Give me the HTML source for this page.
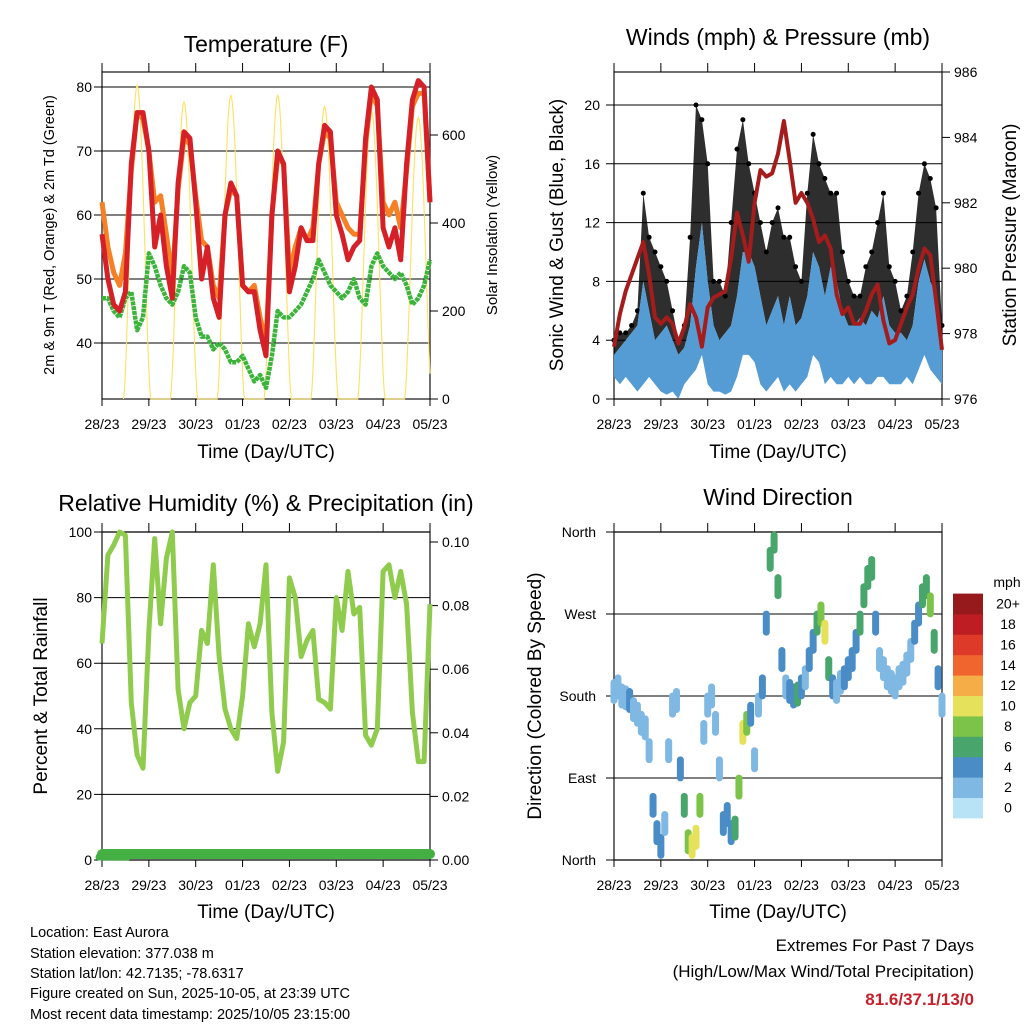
<!DOCTYPE html>
<html><head><meta charset="utf-8"><style>
html,body{margin:0;padding:0;background:#fff;width:1024px;height:1024px;overflow:hidden}
svg{display:block;font-family:"Liberation Sans",sans-serif}
</style></head><body>
<svg id="chart" width="1024" height="1024" viewBox="0 0 1024 1024" xmlns="http://www.w3.org/2000/svg">
<rect width="1024" height="1024" fill="#fff"/>
<text x="266" y="52" font-size="23" text-anchor="middle">Temperature (F)</text>
<text x="778" y="45" font-size="23" text-anchor="middle">Winds (mph) &amp; Pressure (mb)</text>
<text x="266" y="511" font-size="23" text-anchor="middle">Relative Humidity (%) &amp; Precipitation (in)</text>
<text x="778" y="505" font-size="23" text-anchor="middle">Wind Direction</text>
<text transform="translate(54,235) rotate(-90)" font-size="14.5" text-anchor="middle">2m &amp; 9m T (Red, Orange) &amp; 2m Td (Green)</text>
<text transform="translate(497,235) rotate(-90)" font-size="15" text-anchor="middle">Solar Insolation (Yellow)</text>
<text transform="translate(563,235) rotate(-90)" font-size="19" text-anchor="middle">Sonic Wind &amp; Gust (Blue, Black)</text>
<text transform="translate(1016,235) rotate(-90)" font-size="19" text-anchor="middle">Station Pressure (Maroon)</text>
<text transform="translate(47,696) rotate(-90)" font-size="19" text-anchor="middle">Percent &amp; Total Rainfall</text>
<text transform="translate(541,696) rotate(-90)" font-size="19" text-anchor="middle">Direction (Colored By Speed)</text>
<text x="266" y="458" font-size="19" text-anchor="middle">Time (Day/UTC)</text>
<text x="778" y="458" font-size="19" text-anchor="middle">Time (Day/UTC)</text>
<text x="266" y="918" font-size="19" text-anchor="middle">Time (Day/UTC)</text>
<text x="778" y="918" font-size="19" text-anchor="middle">Time (Day/UTC)</text>
<g font-size="14.5">
<text x="30" y="937">Location: East Aurora</text>
<text x="30" y="958">Station elevation: 377.038 m</text>
<text x="30" y="978">Station lat/lon: 42.7135; -78.6317</text>
<text x="30" y="998">Figure created on Sun, 2025-10-05, at 23:39 UTC</text>
<text x="30" y="1019">Most recent data timestamp: 2025/10/05 23:15:00</text>
</g>
<g text-anchor="end">
<text x="974" y="951" font-size="17">Extremes For Past 7 Days</text>
<text x="974" y="977" font-size="17">(High/Low/Max Wind/Total Precipitation)</text>
<text x="974" y="1005" font-size="17" font-weight="bold" fill="#c8202a">81.6/37.1/13/0</text>
</g>
<g id="layer"></g>
</svg>
<script>
// ---------- data ----------
const dayLabels = ["28/23","29/23","30/23","01/23","02/23","03/23","04/23","05/23"];
const tempTicks = [40,50,60,70,80];
const solarTicks = [0,200,400,600];
const windTicks = [0,4,8,12,16,20];
const pressTicks = [976,978,980,982,984,986];
const rhTicks = [0,20,40,60,80,100];
const rainTicks = ["0.00","0.02","0.04","0.06","0.08","0.10"];
const dirTicks = ["North","East","South","West","North"];
const speedBins = ["0","2","4","6","8","10","12","14","16","18","20+"];
const speedColors = ["#b8e3f6","#7fb8e2","#4a8dc6","#48a56c","#7cc34a","#e6e15a","#f5ad48","#f0652d","#de3a2a","#bf1d24","#961a1c"];
// 3-hourly series (57 samples over 168 h)
const tempRed = [57,50,46,45,48,68,76,76,70,55,60,52,47,65,73,72,62,50,55,47,44,60,65,63,49,48,48,42,38,60,70,68,48,52,58,56,56,68,74,73,60,57,53,55,56,72,80,78,58,55,58,53,68,78,81,80,62];
const tempOrange = [62,55,51,49,54,67,76,75,70,62,63,57,50,64,72,71,63,56,55,49,47,60,64,63,49,48,49,44,40,60,69,68,51,55,58,56,58,68,73,72,62,60,58,57,57,71,79,77,62,60,62,58,67,77,79,79,62];
const dewGreen = [47,47,45,44,47,48,42,44,54,52,49,47,46,48,52,51,44,41,41,39,40,39,37,37,38,36,34,35,33,38,45,44,44,45,46,48,50,53,51,49,48,47,48,50,47,46,52,54,52,51,50,51,49,46,47,49,53];
const solarPeaks = [713,675,690,690,665,656,640];
const windSpd = [3,3.5,4,4.5,5,8,6,4,4.5,5,4,3,3.5,5,9,12,8,5,4,4.5,5,7,10,10,9,7,5,6,7,5,7,5,5.5,7,10,9,7,9,8,6,5,5,5.5,5,6,5.5,7,5,4.5,4.5,4,5,8,9.5,8,7,4];
const windLow = [1.5,1,1.5,1,0.5,1,1.5,1,0.5,0.3,0.5,0,1,1.5,2,3,1,0.5,0.5,0.3,0.5,1.5,3,3,2.5,1,0.5,1,1.5,0.5,1,0.5,1,1.5,3,2.5,1,1.5,1,1,1.5,1,1.5,1,1,1.5,1.5,1,1,1,1.5,1,2,3,2,1.5,1];
const gustSpd = [4,4.5,4.5,5,6,14,11,10,9,8,6,4,5,11,20,19,16,8,8,7,12,17,19,16,14,12,10,12,13,11,11,9,8,14,18,16,15,14,14,10,8,7,7,9,10,12,14,9,8,6,7,10,14,16,15,13,5];
const pressure = [977.6,978.6,979.3,979.8,980.3,980.8,979.8,978.5,978.3,978.5,978.3,977.7,978.2,978.9,978.5,977.6,978.8,979.1,979.2,979.3,980.3,981.7,981,980.2,982,983,982.8,982.9,983.5,984.5,983.3,982,982.3,982,981.5,980.8,981,980.6,979.2,978.6,978.8,978.3,978.3,978.7,979.2,979.5,978.4,977.7,977.8,978.3,978.8,979.2,980,980.6,980.4,979,977.5];
const relHum = [66,93,96,100,99,48,32,28,70,98,72,92,100,52,40,48,50,70,66,90,62,46,40,37,50,72,65,72,90,45,27,36,86,80,62,67,70,49,48,46,80,70,88,75,77,38,35,40,88,90,80,88,78,45,30,30,78];
const rainTotal = [0,0,0,0,0,0,0,0,0,0,0,0,0,0,0,0,0,0,0,0,0,0,0,0,0,0,0,0,0,0,0,0,0,0,0,0,0,0,0,0,0,0,0,0,0,0,0,0,0,0,0,0,0,0,0,0,0];
// 2-hourly direction (deg) and speed (mph), 85 samples
const windDir = [185,190,180,178,175,165,160,150,145,120,60,30,15,40,120,170,175,100,60,20,15,25,60,140,170,180,150,100,40,50,30,35,80,140,150,160,110,170,190,260,330,350,300,220,190,185,180,182,190,200,220,240,260,270,250,210,190,185,195,200,210,220,240,260,290,310,320,260,220,210,200,195,190,200,205,215,230,250,270,290,300,280,240,200,170];
const dirSpeed = [3,3,2,3,4,3,3,2,2,3,4,5,4,3,2,2,3,5,7,9,11,10,8,3,2,2,3,3,4,4,5,6,8,10,9,5,3,3,4,5,6,7,7,4,3,4,5,6,4,3,4,5,7,9,10,6,4,3,3,4,4,5,5,6,7,6,6,4,3,3,3,2,2,3,3,2,3,4,5,6,7,8,6,4,3];

// ---------- scales ----------
const L1=102,R1=430,L2=614,R2=942,T1=72,B1=399,T2=532,B2=860;
const xL = h => L1 + h*(R1-L1)/168;
const xR = h => L2 + h*(R2-L2)/168;
const yTemp = v => 343 - (v-40)*6.4;
const ySolar = v => B1 - v*0.44;
const yWind = v => B1 - v*14.7;
const yPress = v => B1 - (v-976)*32.7;
const yRH = v => B2 - v*3.28;
const yRain = v => B2 - v*3180;
const yDir = d => B2 - d*(B2-T2)/360;

const NS="http://www.w3.org/2000/svg";
const layer=document.getElementById('layer');
function mk(tag,attrs,parent){const e=document.createElementNS(NS,tag);for(const k in attrs)e.setAttribute(k,attrs[k]);(parent||layer).appendChild(e);return e;}
function pts(arr,fx,fy,step){return arr.map((v,i)=>fx(i*step).toFixed(1)+","+fy(v).toFixed(1)).join(" ");}

function frame(L,R,T,B,name){
  const g=mk('g',{});
  
  
  mk('rect',{x:L,y:T,width:R-L,height:B-T,fill:'none',stroke:'#222','stroke-width':1.3},g);
  dayLabels.forEach((d,i)=>{
    const x=L+i*(R-L)/7;
    const t=mk('line',{x1:x,x2:x,y1:T-9,y2:T,stroke:'#000','stroke-width':1},g);
    
    
    const tl=mk('text',{x:x,y:B+30,'font-size':14,'text-anchor':'middle'},g);
    
    
    tl.textContent=d;
    const tb=mk('line',{x1:x,x2:x,y1:B,y2:B+7,stroke:'#000','stroke-width':1},g);
    
    
  });
  return g;
}
function hgrid(g,L,R,y,label,side,lx){
  const ln=mk('line',{x1:L-8,x2:R,y1:y,y2:y,stroke:'#000','stroke-width':1},g);
  
  
  const t=mk('text',{x:lx,y:y+5,'font-size':14,'text-anchor':side},g);
  
  
  t.textContent=label;
}
function rtick(g,R,y,label,lx,fs){
  const ln=mk('line',{x1:R,x2:R+8,y1:y,y2:y,stroke:'#000','stroke-width':1},g);
  
  
  const t=mk('text',{x:lx,y:y+5,'font-size':fs||14,'text-anchor':'start'},g);
  
  
  t.textContent=label;
}

// ---------- panel 1: temperature ----------
const g1=frame(L1,R1,T1,B1,'temperature-panel');
tempTicks.forEach(v=>hgrid(g1,L1,R1,yTemp(v),String(v),'end',L1-10));
solarTicks.forEach(v=>rtick(g1,R1,ySolar(v),String(v),R1+12));
let sp=[];
solarPeaks.forEach((p,d)=>{
  const c=18+24*d;
  for(let k=-7;k<=7;k+=0.5){const h=c+k;if(h<0||h>168)continue;const f=Math.max(0,Math.cos(k/7*Math.PI/2));sp.push(xL(h).toFixed(1)+","+ySolar(p*Math.pow(f,1.6)).toFixed(1));}
});
const solar=mk('polyline',{points:sp.join(" "),fill:'none',stroke:'#ffe060','stroke-width':1.1});


const dew=mk('polyline',{points:pts(dewGreen,xL,yTemp,3),fill:'none',stroke:'#3cb43c','stroke-width':4.5,'stroke-dasharray':'4 0.8','stroke-linejoin':'round'});


const tor=mk('polyline',{points:pts(tempOrange,xL,yTemp,3),fill:'none',stroke:'#f58025','stroke-width':5,'stroke-linejoin':'round'});


const tre=mk('polyline',{points:pts(tempRed,xL,yTemp,3),fill:'none',stroke:'#d42026','stroke-width':5,'stroke-linejoin':'round'});



// ---------- panel 2: wind & pressure ----------
const g2=frame(L2,R2,T1,B1,'wind-panel');
windTicks.forEach(v=>hgrid(g2,L2,R2,yWind(v),String(v),'end',L2-14));
pressTicks.forEach(v=>rtick(g2,R2,yPress(v),String(v),R2+12));
const gustBand=windSpd.map((v,i)=>xR(i*3).toFixed(1)+","+yWind(v).toFixed(1)).concat(gustSpd.map((v,i)=>xR(i*3).toFixed(1)+","+yWind(v).toFixed(1)).reverse()).join(" ");
const gb=mk('polygon',{points:gustBand,fill:'#000',opacity:0.82});


gustSpd.forEach((v,i)=>{
  const c=mk('circle',{cx:xR(i*3),cy:yWind(v),r:2.5,fill:'#000'});
  
  
});
const windBand=windSpd.map((v,i)=>xR(i*3).toFixed(1)+","+yWind(v).toFixed(1)).concat(windLow.map((v,i)=>xR(i*3).toFixed(1)+","+yWind(v).toFixed(1)).reverse()).join(" ");
const wb=mk('polygon',{points:windBand,fill:'#559bd4'});


const pr=mk('polyline',{points:pts(pressure,xR,yPress,3),fill:'none',stroke:'#a51c1c','stroke-width':4,'stroke-linejoin':'round'});



// ---------- panel 3: RH & rain ----------
const g3=frame(L1,R1,T2,B2,'humidity-panel');
rhTicks.forEach(v=>hgrid(g3,L1,R1,yRH(v),String(v),'end',L1-10));
rainTicks.forEach(v=>rtick(g3,R1,yRain(parseFloat(v)),v,R1+12));
const rh=mk('polyline',{points:pts(relHum,xL,yRH,3),fill:'none',stroke:'#8fcc4e','stroke-width':5,'stroke-linejoin':'round'});


const rn=mk('polyline',{points:pts(rainTotal,xL,v=>yRain(v)-6,3),fill:'none',stroke:'#44b044','stroke-width':10,'stroke-linecap':'round'});


const rn0=mk('line',{x1:99,x2:128,y1:B2-3,y2:B2-3,stroke:'#44b044','stroke-width':7,'stroke-linecap':'round'});



// ---------- panel 4: direction ----------
const g4=frame(L2,R2,T2,B2,'direction-panel');
dirTicks.forEach((v,i)=>hgrid(g4,L2,R2,yDir(i*90),v,'end',L2-18));
windDir.forEach((d,i)=>{
  const s=dirSpeed[i];
  const col=speedColors[Math.min(10,Math.floor(s/2))];
  const y=yDir(d);
  const c=mk('line',{x1:xR(i*2),x2:xR(i*2),y1:Math.max(T2+3,y-9),y2:Math.min(B2-3,y+9),stroke:col,'stroke-width':7,'stroke-linecap':'round'});
  
  
});
const cb=mk('g',{});


const cbt=mk('text',{x:1007,y:587,'font-size':14,'text-anchor':'middle'},cb);


cbt.textContent='mph';
speedBins.forEach((lab,i)=>{
  const y=818-(i+1)*20.4;
  const r=mk('rect',{x:953,y:y,width:30,height:20.8,fill:speedColors[i]},cb);
  
  
  const t=mk('text',{x:1008,y:y+15,'font-size':14,'text-anchor':'middle'},cb);
  
  
  t.textContent=lab;
});
</script>
</body></html>
